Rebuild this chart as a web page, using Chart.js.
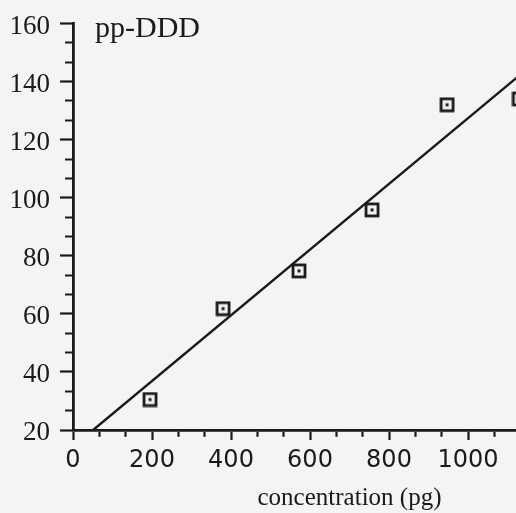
<!DOCTYPE html>
<html>
<head>
<meta charset="utf-8">
<script src="https://cdn.jsdelivr.net/npm/chart.js@4.4.1/dist/chart.umd.min.js"></script>
<style>
  html, body { margin: 0; padding: 0; background: #f4f4f4; overflow: hidden; }
  #wrap { width: 700px; height: 513px; }
</style>
</head>
<body>
<div id="wrap"><canvas id="calibrationChart" width="700" height="513"></canvas></div>
<script>
// measured points (concentration in pg vs. response)
const concentration = [195, 380, 572, 757, 947, 1130];
const response = [30.5, 61.8, 74.8, 95.8, 132, 134];

// calibration line
const fitX = [51, 1160];
const fitY = [20, 145.5];

const xTickLabels = ['0', '200', '400', '600', '800', '1000', '1200', '1400'];
const yTickLabels = ['20', '40', '60', '80', '100', '120', '140', '160'];
const seriesName = 'pp-DDD';
const xTitle = 'concentration (pg)';

const ink = '#1a1a1a';
const xMajor = xTickLabels.map(Number);
const yMajor = yTickLabels.map(Number);

// major ticks plus two small ticks in each gap
function withMinor(majors, parts) {
  const out = [];
  majors.forEach((v, i) => {
    out.push({value: v});
    if (i < majors.length - 1) {
      for (let k = 1; k < parts; k++) {
        out.push({value: v + (majors[i + 1] - v) * k / parts});
      }
    }
  });
  return out;
}

// hollow square with a dot in the middle
function squareMarker() {
  const c = document.createElement('canvas');
  c.width = 16;
  c.height = 16;
  const g = c.getContext('2d');
  g.strokeStyle = ink;
  g.lineWidth = 2.8;
  g.strokeRect(2, 2, 12, 12);
  g.fillStyle = ink;
  g.fillRect(6.5, 6.5, 3, 3);
  return c;
}

const cornerLabel = {
  id: 'cornerLabel',
  afterDraw(chart) {
    const {ctx, chartArea} = chart;
    ctx.save();
    ctx.font = '30px "Liberation Serif"';
    ctx.fillStyle = ink;
    ctx.textBaseline = 'alphabetic';
    ctx.fillText(seriesName, chartArea.left + 22, chartArea.top + 13);
    ctx.restore();
  }
};

const ctx = document.getElementById('calibrationChart').getContext('2d');

new Chart(ctx, {
  type: 'scatter',
  data: {
    datasets: [
      {
        label: seriesName,
        data: concentration.map((x, i) => ({x: x, y: response[i]})),
        pointStyle: squareMarker(),
        pointRadius: 8
      },
      {
        label: 'fit',
        data: fitX.map((x, i) => ({x: x, y: fitY[i]})),
        showLine: true,
        borderColor: ink,
        borderWidth: 2.4,
        pointRadius: 0
      }
    ]
  },
  options: {
    responsive: false,
    animation: false,
    devicePixelRatio: 1,
    layout: {
      padding: {top: 20, right: 74, left: 0, bottom: 0}
    },
    plugins: {
      legend: {display: false},
      tooltip: {enabled: false}
    },
    scales: {
      x: {
        type: 'linear',
        min: 0,
        max: 1400,
        afterBuildTicks: scale => { scale.ticks = withMinor(xMajor, 3); },
        afterFit: scale => { scale.height = 83; },
        border: {color: ink, width: 2.8},
        grid: {
          drawOnChartArea: false,
          tickLength: 10,
          tickWidth: 2.2,
          tickColor: ink,
          tickBorderDash: c => xMajor.includes(c.tick.value) ? [] : [5, 100]
        },
        ticks: {
          autoSkip: false,
          maxRotation: 0,
          padding: 9,
          color: ink,
          font: {family: 'DejaVu Sans', size: 24, lineHeight: 1},
          callback: v => xMajor.includes(v) ? xTickLabels[xMajor.indexOf(v)] : ''
        },
        title: {
          display: true,
          text: xTitle,
          color: ink,
          padding: 0,
          font: {family: 'Liberation Serif', size: 25, lineHeight: 1.2}
        }
      },
      y: {
        type: 'linear',
        min: 20,
        max: 160,
        afterBuildTicks: scale => { scale.ticks = withMinor(yMajor, 3); },
        afterFit: scale => { scale.width = 73; },
        border: {color: ink, width: 2.8},
        grid: {
          drawOnChartArea: false,
          tickLength: 13,
          tickWidth: 2.2,
          tickColor: ink,
          tickBorderDash: c => yMajor.includes(c.tick.value) ? [] : [0, 5, 100, 1]
        },
        ticks: {
          autoSkip: false,
          padding: 10,
          labelOffset: 3,
          color: ink,
          font: {family: 'Liberation Serif', size: 27, lineHeight: 1},
          callback: v => yMajor.includes(v) ? yTickLabels[yMajor.indexOf(v)] : ''
        }
      }
    }
  },
  plugins: [cornerLabel]
});
</script>
</body>
</html>
